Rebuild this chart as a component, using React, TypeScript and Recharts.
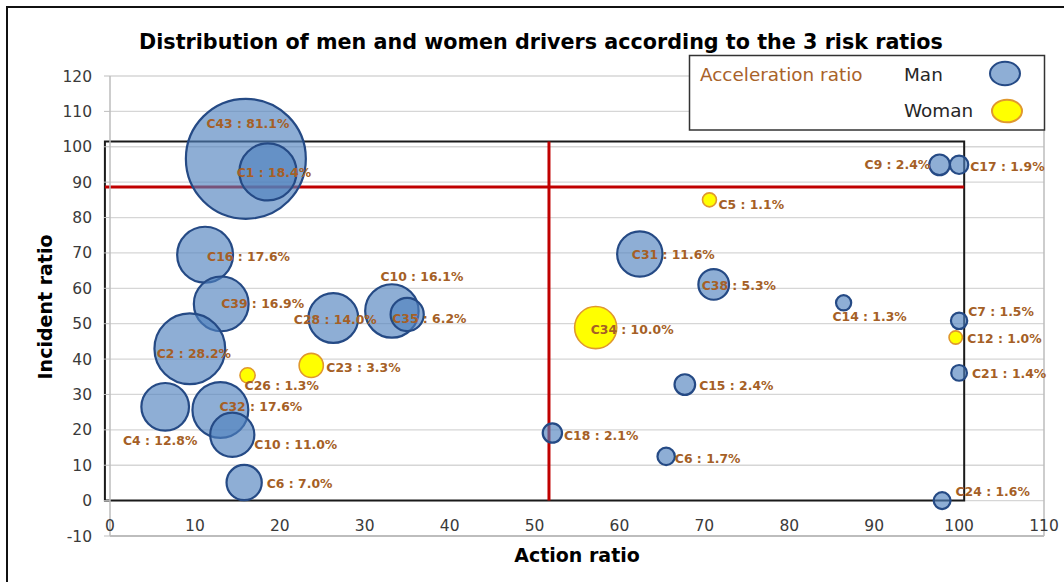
import {
  CartesianGrid,
  LabelList,
  ReferenceArea,
  ReferenceLine,
  Scatter,
  ScatterChart,
  XAxis,
  YAxis,
  ZAxis,
} from "recharts"

const FONT = "'DejaVu Sans', sans-serif"
const LABEL_BROWN = "#A55F26"

// men: cluster id, action ratio (x), incident ratio (y), acceleration ratio (bubble %)
const MAN_IDS = ["C43", "C1", "C16", "C39", "C28", "C10", "C35", "C2", "C4", "C32", "C10", "C6", "C31", "C38", "C14", "C15", "C18", "C6", "C9", "C17", "C7", "C21", "C24"]
const MAN_ACTION = [16.0, 18.6, 11.2, 13.1, 26.3, 33.2, 35.0, 9.4, 6.5, 13.0, 14.4, 15.8, 62.4, 71.1, 86.4, 67.7, 52.1, 65.5, 97.7, 100.0, 100.0, 100.0, 98.0]
const MAN_INCIDENT = [96.6, 92.9, 69.5, 55.6, 51.6, 53.6, 52.6, 42.9, 26.5, 25.6, 18.6, 5.1, 69.7, 61.1, 55.9, 32.8, 19.1, 12.5, 94.9, 94.9, 50.8, 36.1, 0.0]
const MAN_ACCEL = [81.1, 18.4, 17.6, 16.9, 14.0, 16.1, 6.2, 28.2, 12.8, 17.6, 11.0, 7.0, 11.6, 5.3, 1.3, 2.4, 2.1, 1.7, 2.4, 1.9, 1.5, 1.4, 1.6]

// women
const WOMAN_IDS = ["C26", "C23", "C5", "C34", "C12"]
const WOMAN_ACTION = [16.2, 23.7, 70.6, 57.2, 99.6]
const WOMAN_INCIDENT = [35.4, 38.2, 85.0, 48.9, 46.1]
const WOMAN_ACCEL = [1.3, 3.3, 1.1, 10.0, 1.0]

const X_TICKS = [0, 10, 20, 30, 40, 50, 60, 70, 80, 90, 100, 110]
const Y_TICKS = [-10, 0, 10, 20, 30, 40, 50, 60, 70, 80, 90, 100, 110, 120]

// thresholds and the highlighted zone, in data units
const ACTION_CUT = 51.7
const INCIDENT_CUT = 88.6
const ZONE = { x1: -0.6, x2: 100.6, y1: 0, y2: 101.5 }

type Pt = { x: number; y: number; z: number; label: string }

function build(ids: string[], xs: number[], ys: number[], zs: number[]): Pt[] {
  return ids.map((id, i) => ({
    x: xs[i],
    y: ys[i],
    z: zs[i],
    label: `${id} : ${zs[i].toFixed(1)}%`,
  }))
}

const manData = build(MAN_IDS, MAN_ACTION, MAN_INCIDENT, MAN_ACCEL)
const womanData = build(WOMAN_IDS, WOMAN_ACTION, WOMAN_INCIDENT, WOMAN_ACCEL)

// where each data label sits relative to its bubble
type Place = { pos: "right" | "left" | "center" | "inside"; dx?: number; dy?: number }
const LABEL_PLACE: Record<string, Place> = {
  "C43 : 81.1%": { pos: "center", dx: 2, dy: -35 },
  "C1 : 18.4%": { pos: "center", dx: 6, dy: 1 },
  "C16 : 17.6%": { pos: "inside", dx: 2, dy: 2 },
  "C39 : 16.9%": { pos: "inside", dx: 0, dy: 0 },
  "C28 : 14.0%": { pos: "center", dx: 2, dy: 2 },
  "C10 : 16.1%": { pos: "center", dx: 30, dy: -34 },
  "C35 : 6.2%": { pos: "inside", dx: -15, dy: 4 },
  "C2 : 28.2%": { pos: "center", dx: 4, dy: 5 },
  "C4 : 12.8%": { pos: "center", dx: -5, dy: 34 },
  "C32 : 17.6%": { pos: "inside", dx: -1, dy: -3 },
  "C10 : 11.0%": { pos: "right", dx: -3, dy: 10 },
  "C6 : 7.0%": { pos: "right", dx: 2, dy: 1 },
  "C31 : 11.6%": { pos: "inside", dx: -8, dy: 1 },
  "C38 : 5.3%": { pos: "inside", dx: -12, dy: 1 },
  "C14 : 1.3%": { pos: "center", dx: 26, dy: 14 },
  "C15 : 2.4%": { pos: "right", dx: 1, dy: 1 },
  "C18 : 2.1%": { pos: "right", dx: -1, dy: 3 },
  "C6 : 1.7%": { pos: "right", dx: -3, dy: 2 },
  "C9 : 2.4%": { pos: "left", dx: 2, dy: 0 },
  "C17 : 1.9%": { pos: "right", dx: -1, dy: 2 },
  "C7 : 1.5%": { pos: "right", dx: -2, dy: -9 },
  "C21 : 1.4%": { pos: "right", dx: 2, dy: 1 },
  "C24 : 1.6%": { pos: "right", dx: 2, dy: -9 },
  "C26 : 1.3%": { pos: "inside", dx: -3, dy: 10 },
  "C23 : 3.3%": { pos: "right", dx: 0, dy: 2 },
  "C5 : 1.1%": { pos: "right", dx: -1, dy: 5 },
  "C34 : 10.0%": { pos: "inside", dx: -5, dy: 2 },
  "C12 : 1.0%": { pos: "right", dx: 2, dy: 1 },
}

const BUBBLE_STYLE = {
  man: { fill: "#4F81BD", fillOpacity: 0.64, stroke: "#254A85", strokeWidth: 2.2 },
  woman: { fill: "#FFFF00", fillOpacity: 1, stroke: "#E0982E", strokeWidth: 1.6 },
}

function Bubble(props: any) {
  const { cx, cy, width, size, kind } = props
  const r = width ? width / 2 : Math.sqrt((size ?? 0) / Math.PI)
  return <circle cx={cx} cy={cy} r={r} {...BUBBLE_STYLE[kind as "man" | "woman"]} />
}

function BubbleLabel(props: any) {
  const vb = props.viewBox ?? props
  const w = vb.width ?? 0
  const h = vb.height ?? 0
  const cx = vb.x + w / 2
  const cy = vb.y + h / 2
  const r = w / 2
  const text = String(props.value)
  const place = LABEL_PLACE[text] ?? { pos: "right" }
  const dx = place.dx ?? 0
  const dy = place.dy ?? 0
  let x = cx + dx
  let anchor: "start" | "middle" | "end" = "start"
  if (place.pos === "right") x = cx + r + 3 + dx
  else if (place.pos === "left") {
    x = cx - r - 1 + dx
    anchor = "end"
  } else if (place.pos === "center") anchor = "middle"
  return (
    <text
      x={x}
      y={cy + dy}
      dy="0.36em"
      textAnchor={anchor}
      fill={LABEL_BROWN}
      fontFamily={FONT}
      fontWeight="bold"
      fontSize={12.4}
    >
      {text}
    </text>
  )
}

function XTick(props: any) {
  const { x, y, payload } = props
  return (
    <text x={x} y={y - 5} textAnchor="middle" fill="#3a3a3a" fontFamily={FONT} fontSize={15.5}>
      {payload.value}
    </text>
  )
}

function Overlay() {
  return (
    <svg width={1064} height={582} style={{ position: "absolute", left: 0, top: 0, pointerEvents: "none" }}>
      <text x={541} y={49} textAnchor="middle" fontFamily={FONT} fontWeight="bold" fontSize={20.7} fill="#000">
        Distribution of men and women drivers according to the 3 risk ratios
      </text>
      <text x={577} y={562} textAnchor="middle" fontFamily={FONT} fontWeight="bold" fontSize={19} fill="#000">
        Action ratio
      </text>
      <text
        transform="translate(51.5,307) rotate(-90)"
        textAnchor="middle"
        fontFamily={FONT}
        fontWeight="bold"
        fontSize={19}
        fill="#000"
      >
        Incident ratio
      </text>

      <rect x={689.5} y={55.5} width={355} height={74.5} fill="#fff" stroke="#333" strokeWidth={1.5} />
      <text x={700} y={80.5} fontFamily={FONT} fontSize={18.4} fill="#A8622A">
        Acceleration ratio
      </text>
      <text x={904} y={80.5} fontFamily={FONT} fontSize={18.4} fill="#262626">
        Man
      </text>
      <ellipse cx={1005} cy={73.5} rx={15} ry={11.7} fill="#8EAED5" stroke="#254A85" strokeWidth={2} />
      <text x={904} y={117} fontFamily={FONT} fontSize={18.4} fill="#262626">
        Woman
      </text>
      <ellipse cx={1007} cy={111} rx={15} ry={11.3} fill="#FFFF00" stroke="#E0982E" strokeWidth={2} />
    </svg>
  )
}

export default function App() {
  return (
    <div
      style={{
        position: "fixed",
        left: 0,
        top: 0,
        width: 1064,
        height: 582,
        overflow: "hidden",
        background: "#fff",
      }}
    >
      <div
        style={{
          position: "absolute",
          left: 6,
          top: 6,
          width: 1200,
          height: 700,
          border: "2px solid #111",
        }}
      />
      <div style={{ position: "absolute", left: 0, top: 0 }}>
        <ScatterChart width={1064} height={582} margin={{ top: 76, right: 20, bottom: 16, left: 50 }}>
          <CartesianGrid vertical={false} stroke="#d6d6d6" strokeWidth={1.3} />
          <XAxis
            type="number"
            dataKey="x"
            domain={[0, 110]}
            ticks={X_TICKS}
            interval={0}
            height={30}
            tickSize={0}
            tickMargin={0}
            tickLine={false}
            axisLine={{ stroke: "#bdbdbd", strokeWidth: 2 }}
            tick={<XTick />}
          />
          <YAxis
            type="number"
            dataKey="y"
            domain={[-10, 120]}
            ticks={Y_TICKS}
            interval={0}
            width={60}
            tickSize={6}
            tickMargin={12}
            axisLine={{ stroke: "#bdbdbd", strokeWidth: 1.5 }}
            tickLine={{ stroke: "#bdbdbd" }}
            tick={{ fill: "#3a3a3a", fontSize: 15.5, fontFamily: FONT }}
          />
          <ZAxis type="number" dataKey="z" domain={[0, 100]} range={[0, Math.PI * 66.6 * 66.6]} />
          <ReferenceLine x={110} stroke="#bdbdbd" strokeWidth={1.5} />
          <Scatter
            name="Man"
            data={manData}
            isAnimationActive={false}
            shape={(p: any) => <Bubble {...p} kind="man" />}
          >
            <LabelList dataKey="label" content={BubbleLabel} />
          </Scatter>
          <Scatter
            name="Woman"
            data={womanData}
            isAnimationActive={false}
            shape={(p: any) => <Bubble {...p} kind="woman" />}
          >
            <LabelList dataKey="label" content={BubbleLabel} />
          </Scatter>
          <ReferenceArea
            x1={ZONE.x1}
            x2={ZONE.x2}
            y1={ZONE.y1}
            y2={ZONE.y2}
            fill="none"
            stroke="#1a1a1a"
            strokeWidth={2}
            ifOverflow="visible"
          />
          <ReferenceLine
            segment={[
              { x: ZONE.x1, y: INCIDENT_CUT },
              { x: ZONE.x2, y: INCIDENT_CUT },
            ]}
            stroke="#C00000"
            strokeWidth={3}
            ifOverflow="visible"
          />
          <ReferenceLine
            segment={[
              { x: ACTION_CUT, y: ZONE.y1 },
              { x: ACTION_CUT, y: ZONE.y2 },
            ]}
            stroke="#C00000"
            strokeWidth={3}
            ifOverflow="visible"
          />
        </ScatterChart>
      </div>
      <Overlay />
    </div>
  )
}
